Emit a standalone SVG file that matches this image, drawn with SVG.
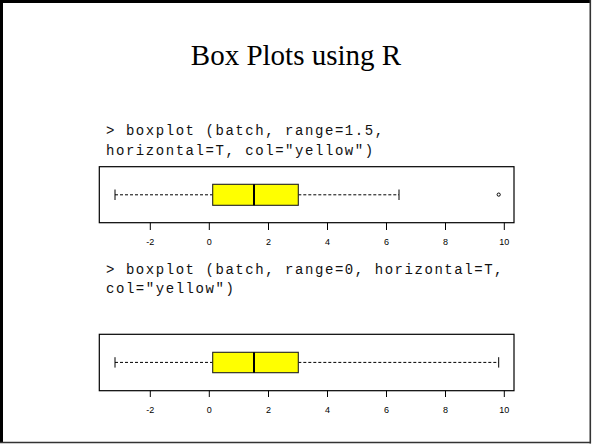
<svg xmlns="http://www.w3.org/2000/svg" width="592" height="444" viewBox="0 0 592 444">
<style>
.title{font-family:"Liberation Serif","Times New Roman",serif;font-size:29px;fill:#000}
.code{font-family:"Liberation Mono","Courier New",monospace;font-size:14px;letter-spacing:1.55px;fill:#111}
.tick{font-family:"Liberation Sans",Arial,sans-serif;font-size:9px;fill:#000;text-anchor:middle}
.frame{fill:none;stroke:#000;stroke-width:1.2}
.box{fill:#ffff00;stroke:#222;stroke-width:1.1}
.med{stroke:#000;stroke-width:2}
.wh{stroke:#000;stroke-width:1;stroke-dasharray:3,2}
.cap{stroke:#000;stroke-width:1}
.tk{stroke:#000;stroke-width:1}
</style>
<rect x="0" y="0" width="592" height="444" fill="#fff"/>
<g id="slide-border">
<line x1="1.5" y1="0" x2="1.5" y2="443" stroke="#000" stroke-width="3"/>
<line x1="0" y1="1.5" x2="591" y2="1.5" stroke="#000" stroke-width="3"/>
<line x1="590.3" y1="0" x2="590.3" y2="443.5" stroke="#333" stroke-width="1.6"/>
<line x1="0" y1="442.5" x2="591" y2="442.5" stroke="#333" stroke-width="1.6"/>
</g>
<text class="title" x="296" y="65" text-anchor="middle">Box Plots using R</text>
<g id="code1">
<text class="code" x="106" y="135" xml:space="preserve">&gt; boxplot (batch, range=1.5,</text>
<text class="code" x="106" y="154.5" xml:space="preserve">horizontal=T, col="yellow")</text>
</g>
<g id="plot1">
<rect class="frame" x="99.3" y="166.7" width="414.7" height="56"/>
<line class="wh" x1="115" y1="194.8" x2="212.7" y2="194.8"/>
<line class="wh" x1="298.3" y1="194.8" x2="399" y2="194.8"/>
<line class="cap" x1="115" y1="189.5" x2="115" y2="200"/>
<line class="cap" x1="399" y1="189.5" x2="399" y2="200"/>
<rect class="box" x="212.7" y="184.3" width="85.6" height="21"/>
<line class="med" x1="254" y1="184.3" x2="254" y2="205.3"/>
<circle cx="498.7" cy="194.6" r="1.6" fill="none" stroke="#000" stroke-width="1"/>
<g class="tk">
<line x1="150.3" y1="222.7" x2="150.3" y2="230"/>
<line x1="209.3" y1="222.7" x2="209.3" y2="230"/>
<line x1="268.5" y1="222.7" x2="268.5" y2="230"/>
<line x1="327.5" y1="222.7" x2="327.5" y2="230"/>
<line x1="386.5" y1="222.7" x2="386.5" y2="230"/>
<line x1="445.5" y1="222.7" x2="445.5" y2="230"/>
<line x1="504.3" y1="222.7" x2="504.3" y2="230"/>
</g>
<text class="tick" x="150.3" y="245">-2</text>
<text class="tick" x="209.3" y="245">0</text>
<text class="tick" x="268.5" y="245">2</text>
<text class="tick" x="327.5" y="245">4</text>
<text class="tick" x="386.5" y="245">6</text>
<text class="tick" x="445.5" y="245">8</text>
<text class="tick" x="504.3" y="245">10</text>
</g>
<g id="code2">
<text class="code" x="106" y="274" xml:space="preserve">&gt; boxplot (batch, range=0, horizontal=T,</text>
<text class="code" x="106" y="293.3" xml:space="preserve">col="yellow")</text>
</g>
<g id="plot2">
<rect class="frame" x="99.3" y="334.3" width="414.7" height="56.4"/>
<line class="wh" x1="115" y1="362.4" x2="212.7" y2="362.4"/>
<line class="wh" x1="298.3" y1="362.4" x2="498.7" y2="362.4"/>
<line class="cap" x1="115" y1="357.2" x2="115" y2="367.6"/>
<line class="cap" x1="498.7" y1="357.2" x2="498.7" y2="367.6"/>
<rect class="box" x="212.7" y="352.3" width="85.6" height="20.4"/>
<line class="med" x1="254" y1="352.3" x2="254" y2="372.7"/>
<g class="tk">
<line x1="150.3" y1="390.7" x2="150.3" y2="397"/>
<line x1="209.3" y1="390.7" x2="209.3" y2="397"/>
<line x1="268.5" y1="390.7" x2="268.5" y2="397"/>
<line x1="327.5" y1="390.7" x2="327.5" y2="397"/>
<line x1="386.5" y1="390.7" x2="386.5" y2="397"/>
<line x1="445.5" y1="390.7" x2="445.5" y2="397"/>
<line x1="504.3" y1="390.7" x2="504.3" y2="397"/>
</g>
<text class="tick" x="150.3" y="412.7">-2</text>
<text class="tick" x="209.3" y="412.7">0</text>
<text class="tick" x="268.5" y="412.7">2</text>
<text class="tick" x="327.5" y="412.7">4</text>
<text class="tick" x="386.5" y="412.7">6</text>
<text class="tick" x="445.5" y="412.7">8</text>
<text class="tick" x="504.3" y="412.7">10</text>
</g>
</svg>
